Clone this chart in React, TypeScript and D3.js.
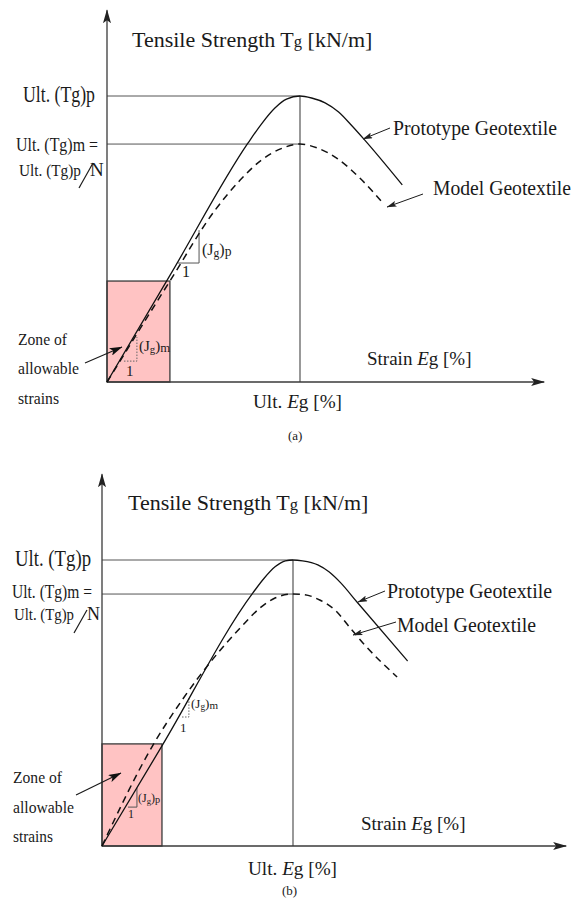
import React from "react";
import * as d3 from "d3";

// Schematic tensile strength (kN/m, prototype ultimate = 100) versus strain (%, strain at peak = 10)
const ULT_STRAIN = 10;
const ULT_PROTO = 100;

// (a) model geotextile softer than the prototype
const protoStrainA = [0, 3.3, 7.3, 8.0, 8.7, 9.3, 10, 10.6, 11.3, 12.0, 12.7, 13.3, 15.3];
const protoStrengthA = [0, 37.7, 83.5, 90.2, 95.8, 98.9, 100, 99.3, 97.6, 94.4, 89.5, 85.0, 68.9];
const modelStrainA = [0, 3.26, 5.6, 6.9, 8.0, 9.1, 10, 10.9, 11.9, 13.1, 14.35];
const modelStrengthA = [0, 35.3, 60.1, 70.6, 77.6, 81.8, 83.2, 81.8, 78.3, 71.3, 62.2];
const ultModelA = 83.2;
const allowableA = [3.26, 35.3]; // [strain, strength]

// (b) model geotextile stiffer than the prototype at small strains
const protoStrainB = [0, 3.14, 7.9, 8.5, 9.06, 9.6, 10, 10.5, 11.3, 11.9, 12.5, 13.35, 16.0];
const protoStrengthB = [0, 35.0, 88.5, 93.7, 97.6, 99.7, 100, 99.7, 98.3, 95.8, 92.0, 85.3, 64.7];
const modelStrainB = [0, 2.67, 4.19, 5.76, 7.23, 8.27, 9.06, 10, 10.6, 11.4, 12.2, 13.0, 13.66, 15.45];
const modelStrengthB = [0, 35.3, 51.0, 65.0, 76.2, 83.2, 86.7, 88.1, 87.9, 86.0, 82.5, 76.2, 71.0, 59.1];
const ultModelB = 88.1;
const allowableB = [3.14, 35.7];

// Tangent-stiffness triangles: [left strain, vertical-leg strain, bottom strength, top strength]
const stiffTriA = { p: [3.68, 4.77, 41.6, 53.1], m: [0.88, 1.55, 7.3, 15.7] };
const stiffTriB = { m: [4.19, 4.55, 45.1, 51.7], p: [1.36, 1.83, 13.6, 20.3] };

const FONT = "'Liberation Serif', 'Times New Roman', Times, serif";
const INK = "#1a1a1a";
const LINE = "#3a3a3a";

type Pt = [number, number];

function Txt({ x, y, size, len, children }: any) {
  return (
    <text
      x={x}
      y={y}
      fontSize={size}
      textLength={len}
      lengthAdjust={len ? "spacingAndGlyphs" : undefined}
      fill={INK}
    >
      {children}
    </text>
  );
}

const layoutA = {
  xRange: [107, 300],
  yRange: [382, 96],
  xMax: 22.65,
  yMax: 130,
  title: [132, 47],
  ultP: [23, 102, 72],
  ultM: [16, 151, 82],
  ultPN: [19, 176, 62, 79, 188, 93, 163, 90],
  mSize: 19,
  pnSize: 17.3,
  proto: [393, 135, 164],
  protoArrow: [390, 128, 363, 139],
  model: [433, 195, 138],
  modelArrow: [423, 194, 387, 207],
  strain: [367, 365],
  ultE: [253, 408],
  tag: [288, 440, "(a)"],
  zone: [18, [345, 374, 404], [49, 61, 41]],
  zoneArrow: [85, 363, 122, 347],
  jp: [202, 255, 16, 182, 277],
  jm: [139, 351, 15, 126, 376],
};

const layoutB = {
  xRange: [102, 293],
  yRange: [846, 560],
  xMax: 24.3,
  yMax: 130,
  title: [128, 510],
  ultP: [15, 566, 76],
  ultM: [12, 598, 80],
  ultPN: [14, 620, 60, 74, 633, 87, 610, 87],
  mSize: 18,
  pnSize: 17.3,
  proto: [387, 598, 165],
  protoArrow: [385, 591, 358, 602],
  model: [397, 632, 139],
  modelArrow: [396, 622, 353, 635],
  strain: [361, 830],
  ultE: [248, 875],
  tag: [282, 895, "(b)"],
  zone: [13, [783, 813, 842], [49, 61, 40]],
  zoneArrow: [76, 795, 121, 773],
  jp: [138, 802, 12, 128, 818],
  jm: [191, 708, 13, 180, 732],
};

function Panel({ L, proto, model, ultModel, allow, tri }: any) {
  const x = d3.scaleLinear().domain([0, ULT_STRAIN]).range(L.xRange);
  const y = d3.scaleLinear().domain([0, ULT_PROTO]).range(L.yRange);
  const line = d3
    .line<Pt>()
    .x((d) => x(d[0]))
    .y((d) => y(d[1]))
    .curve(d3.curveMonotoneX);
  const protoPts: Pt[] = proto[0].map((s: number, i: number) => [s, proto[1][i]]);
  const modelPts: Pt[] = model[0].map((s: number, i: number) => [s, model[1][i]]);

  const triangle = (t: number[], dotted: boolean) => (
    <path
      d={`M${x(t[0])},${y(t[2])} H${x(t[1])} V${y(t[3])}`}
      fill="none"
      stroke={dotted ? "#666" : "#555"}
      strokeWidth={1}
      strokeDasharray={dotted ? "1.5 1.5" : undefined}
    />
  );

  const jLabel = (j: any[], sub: string) => (
    <g>
      <text x={j[0]} y={j[1]} fontSize={j[2]} fill={INK}>
        (J<tspan fontSize={j[2] * 0.72} dy={2}>g</tspan>
        <tspan dy={-2}>)</tspan>
        <tspan fontSize={j[2] * 0.85} dy={1}>{sub}</tspan>
      </text>
      <text x={j[3]} y={j[4]} fontSize={j[2]} fill={INK}>1</text>
    </g>
  );

  const [px, py, pl, s1x, s1y, s2x, s2y, nx] = L.ultPN;

  return (
    <g fontFamily={FONT}>
      {/* zone of allowable strains */}
      <rect
        x={x(0)}
        y={y(allow[1])}
        width={x(allow[0]) - x(0)}
        height={y(0) - y(allow[1])}
        fill="#ffc3c3"
        stroke={LINE}
        strokeWidth={1.3}
      />

      {/* ultimate strength and strain reference lines */}
      <line x1={x(0)} x2={x(ULT_STRAIN)} y1={y(ULT_PROTO)} y2={y(ULT_PROTO)} stroke="#555" strokeWidth={1} />
      <line x1={x(0)} x2={x(ULT_STRAIN)} y1={y(ultModel)} y2={y(ultModel)} stroke="#555" strokeWidth={1} />
      <line x1={x(ULT_STRAIN)} x2={x(ULT_STRAIN)} y1={y(ULT_PROTO)} y2={y(0)} stroke="#444" strokeWidth={1.1} />

      {/* axes */}
      <line x1={x(0)} y1={y(0)} x2={x(L.xMax)} y2={y(0)} stroke={LINE} strokeWidth={1.3} markerEnd="url(#axisHead)" />
      <line x1={x(0)} y1={y(0)} x2={x(0)} y2={y(L.yMax)} stroke={LINE} strokeWidth={1.3} markerEnd="url(#axisHead)" />

      {/* stiffness triangles */}
      {triangle(tri.p, false)}
      {triangle(tri.m, true)}

      {/* curves */}
      <path d={line(protoPts) || ""} fill="none" stroke="#111" strokeWidth={1.3} />
      <path d={line(modelPts) || ""} fill="none" stroke="#111" strokeWidth={1.5} strokeDasharray="7 5" />

      {/* labels */}
      <text x={L.title[0]} y={L.title[1]} fontSize={22} fill={INK}>
        Tensile Strength T<tspan fontSize={16.5}>g</tspan> [kN/m]
      </text>
      <Txt x={L.ultP[0]} y={L.ultP[1]} size={24} len={L.ultP[2]}>Ult. (Tg)p</Txt>
      <Txt x={L.ultM[0]} y={L.ultM[1]} size={L.mSize} len={L.ultM[2]}>Ult. (Tg)m =</Txt>
      <Txt x={px} y={py} size={L.pnSize} len={pl}>Ult. (Tg)p</Txt>
      <line x1={s1x} y1={s1y} x2={s2x} y2={s2y} stroke={INK} strokeWidth={1.2} />
      <Txt x={nx} y={py} size={L.mSize}>N</Txt>

      <Txt x={L.proto[0]} y={L.proto[1]} size={22} len={L.proto[2]}>Prototype Geotextile</Txt>
      <line x1={L.protoArrow[0]} y1={L.protoArrow[1]} x2={L.protoArrow[2]} y2={L.protoArrow[3]} stroke={INK} strokeWidth={1} markerEnd="url(#smallHead)" />
      <Txt x={L.model[0]} y={L.model[1]} size={20.5} len={L.model[2]}>Model Geotextile</Txt>
      <line x1={L.modelArrow[0]} y1={L.modelArrow[1]} x2={L.modelArrow[2]} y2={L.modelArrow[3]} stroke={INK} strokeWidth={1} markerEnd="url(#smallHead)" />

      <text x={L.strain[0]} y={L.strain[1]} fontSize={19} fill={INK}>
        Strain <tspan fontStyle="italic">E</tspan>g [%]
      </text>
      <text x={L.ultE[0]} y={L.ultE[1]} fontSize={19.2} fill={INK}>
        Ult. <tspan fontStyle="italic">E</tspan>g [%]
      </text>
      <Txt x={L.tag[0]} y={L.tag[1]} size={13}>{L.tag[2]}</Txt>

      {["Zone of", "allowable", "strains"].map((s, i) => (
        <Txt key={s} x={L.zone[0]} y={L.zone[1][i]} size={17} len={L.zone[2][i]}>
          {s}
        </Txt>
      ))}
      <line x1={L.zoneArrow[0]} y1={L.zoneArrow[1]} x2={L.zoneArrow[2]} y2={L.zoneArrow[3]} stroke={INK} strokeWidth={1.2} markerEnd="url(#zoneHead)" />

      {jLabel(L.jp, "p")}
      {jLabel(L.jm, "m")}
    </g>
  );
}

export default function App() {
  return (
    <svg
      width={583}
      height={902}
      viewBox="0 0 583 902"
      style={{ position: "absolute", left: 0, top: 0, background: "#fff" }}
    >
      <defs>
        <marker id="axisHead" viewBox="0 0 14 8" refX="13" refY="4" markerWidth="14" markerHeight="8" markerUnits="userSpaceOnUse" orient="auto">
          <path d="M0,0 L14,4 L0,8 L3,4 z" fill="#222" />
        </marker>
        <marker id="smallHead" viewBox="0 0 10 6" refX="9.5" refY="3" markerWidth="10" markerHeight="6" markerUnits="userSpaceOnUse" orient="auto">
          <path d="M0,0 L10,3 L0,6 L2,3 z" fill="#222" />
        </marker>
        <marker id="zoneHead" viewBox="0 0 13 8" refX="12.5" refY="4" markerWidth="13" markerHeight="8" markerUnits="userSpaceOnUse" orient="auto">
          <path d="M0,0 L13,4 L0,8 L3,4 z" fill="#111" />
        </marker>
      </defs>
      <rect width={583} height={902} fill="#fff" />
      <Panel
        L={layoutA}
        proto={[protoStrainA, protoStrengthA]}
        model={[modelStrainA, modelStrengthA]}
        ultModel={ultModelA}
        allow={allowableA}
        tri={stiffTriA}
      />
      <Panel
        L={layoutB}
        proto={[protoStrainB, protoStrengthB]}
        model={[modelStrainB, modelStrengthB]}
        ultModel={ultModelB}
        allow={allowableB}
        tri={stiffTriB}
      />
    </svg>
  );
}
